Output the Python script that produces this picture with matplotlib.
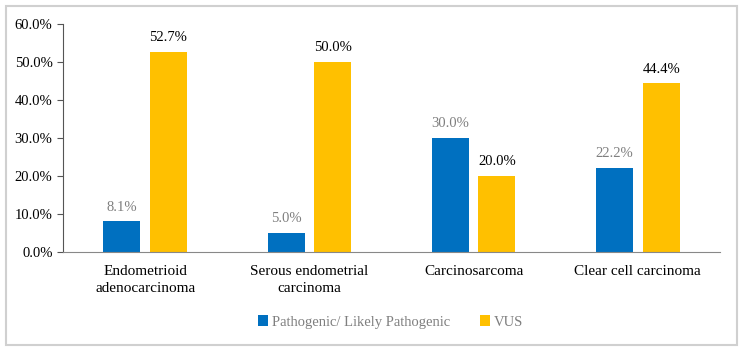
import matplotlib.pyplot as plt
from matplotlib.patches import Rectangle
import numpy as np

plt.rcParams['font.family'] = ['Liberation Serif', 'DejaVu Serif']

categories = ["Endometrioid\nadenocarcinoma", "Serous endometrial\ncarcinoma",
              "Carcinosarcoma", "Clear cell carcinoma"]
pathogenic = [8.1, 5.0, 30.0, 22.2]
vus = [52.7, 50.0, 20.0, 44.4]
yticks = [0, 10, 20, 30, 40, 50, 60]

blue = "#0070C0"
gold = "#FFC000"

fig = plt.figure(figsize=(7.44, 3.52), dpi=100)
ax = fig.add_axes([0.0847, 0.284, 0.883, 0.648])

x = np.arange(len(categories))
w = 0.225
off = 0.142
b1 = ax.bar(x - off, pathogenic, w, color=blue, label="Pathogenic/ Likely Pathogenic")
b2 = ax.bar(x + off, vus, w, color=gold, label="VUS")

for xi, v in zip(x, pathogenic):
    ax.text(xi - off, v + 2.0, "%.1f%%" % v, ha="center", va="bottom",
            fontsize=10.5, color="#7f7f7f")
for xi, v in zip(x, vus):
    ax.text(xi + off, v + 2.0, "%.1f%%" % v, ha="center", va="bottom",
            fontsize=10.5, color="black")

ax.set_xlim(-0.5, len(categories) - 0.5)
ax.set_ylim(0, 60)
ax.set_yticks(yticks)
ax.set_yticklabels(["%.1f%%" % t for t in yticks], fontsize=10.5)
ax.set_xticks(x)
ax.set_xticklabels(categories, fontsize=11, linespacing=1.45)
ax.tick_params(axis="x", length=0, pad=9)
ax.tick_params(axis="y", length=4, width=0.8, color="#555555")

for s in ["top", "right"]:
    ax.spines[s].set_visible(False)
ax.spines["left"].set_color("#555555")
ax.spines["bottom"].set_color("#888888")

leg = fig.legend(handles=[b1, b2], loc="center", bbox_to_anchor=(0.525, 0.085),
                 ncol=2, frameon=False, fontsize=10.5, handlelength=0.7,
                 handleheight=0.7, columnspacing=2.0, handletextpad=0.3)
for t in leg.get_texts():
    t.set_color("#7f7f7f")

fig.patches.append(Rectangle((0.008, 0.02), 0.983, 0.962, transform=fig.transFigure,
                             fill=False, edgecolor="#d0d0d0", linewidth=1.5))

fig.savefig("out.png", dpi=100)
